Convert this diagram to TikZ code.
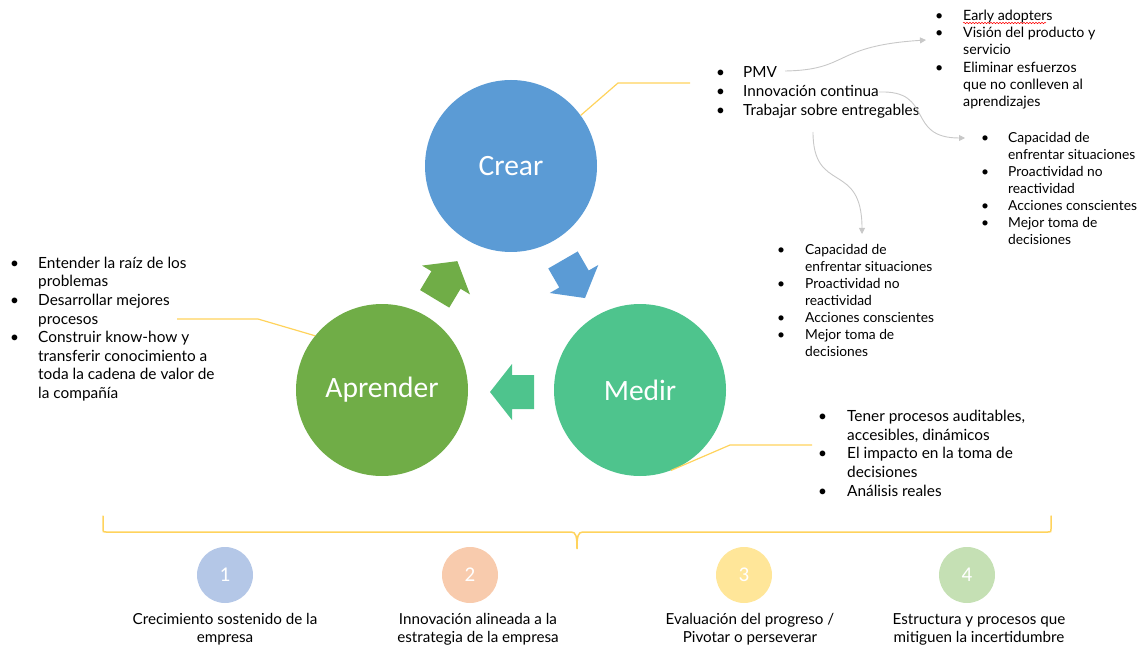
\documentclass[tikz,border=0pt]{standalone}
\usepackage{fontspec}
\setmainfont{Lato}
\newfontfamily\circfont{Carlito}
\usetikzlibrary{arrows.meta,decorations.pathmorphing}

\definecolor{azul}{HTML}{5B9BD5}
\definecolor{verde}{HTML}{70AD47}
\definecolor{menta}{HTML}{4EC48D}
\definecolor{amarillo}{HTML}{FFD35C}
\definecolor{gris}{HTML}{C8C8C8}
\definecolor{celeste}{HTML}{B4C7E7}
\definecolor{salmon}{HTML}{F8CBAD}
\definecolor{crema}{HTML}{FFE699}
\definecolor{pasto}{HTML}{C5E0B4}

% flecha de bloque: color, x, y, angulo
\newcommand{\flecha}[4]{
	\fill[#1, shift={(#2,#3)}, rotate=#4]
		(-22,-17) -- (0,-17) -- (0,-28) -- (22,0) -- (0,28) -- (0,17) -- (-22,17) -- cycle;
}

\begin{document}
\begin{tikzpicture}[
			x = 1pt, y = -1pt,
			circulo/.style = {circle, minimum size = 172pt, inner sep = 0pt, text = white,
				font = \circfont\fontsize{29.5}{31}\selectfont},
			numero/.style = {circle, minimum size = 56pt, inner sep = 0pt, text = white,
				font = \circfont\fontsize{21}{23}\selectfont},
			lista/.style 2 args = {anchor = north west, inner sep = 0pt, font = \fontsize{#1}{#2}\selectfont},
			leyenda/.style = {anchor = north, inner sep = 0pt, font = \fontsize{15.2}{18}\selectfont},
			guia/.style = {draw = amarillo, line width = 1.2pt},
			enlace/.style = {draw = gris, line width = 0.9pt, -{Triangle[width=6pt,length=6pt]}}
			]

			\useasboundingbox (0,0) rectangle (1141,647);

			% ciclo
			\node[circulo, fill = azul] (crear) at (511,166) {Crear};
			\node[circulo, fill = verde] (aprender) at (382,390) {Aprender};
			\node[circulo, fill = menta] (medir) at (640,390) {Medir};

			\flecha{verde}{446}{280}{59}
			\flecha{azul}{574}{279}{-60}
			\flecha{menta}{512}{392}{180}

			% listas
			\node[lista = {15.3}{19}] (lcrear) at (716,64) {\begin{tabular}{@{}p{27pt}@{}l@{}}
				\textbullet & PMV\\
				\textbullet & Innovación continua\\
				\textbullet & Trabajar sobre entregables
				\end{tabular}};

			\node[lista = {14.2}{17.3}] (lpmv) at (935,8) {\begin{tabular}{@{}p{28pt}@{}l@{}}
				\textbullet & Early adopters\\
				\textbullet & Visión del producto y\\
				 & servicio\\
				\textbullet & Eliminar esfuerzos\\
				 & que no conlleven al\\
				 & aprendizajes
				\end{tabular}};
			\draw[red, line width = 0.5pt, decorate, decoration = {snake, amplitude = 0.7pt, segment length = 3pt}]
				(963,23) -- (1046,23);

			\node[lista = {13.8}{17}] (linnov) at (981,130) {\begin{tabular}{@{}p{27pt}@{}l@{}}
				\textbullet & Capacidad de\\
				 & enfrentar situaciones\\
				\textbullet & Proactividad no\\
				 & reactividad\\
				\textbullet & Acciones conscientes\\
				\textbullet & Mejor toma de\\
				 & decisiones
				\end{tabular}};

			\node[lista = {13.8}{17}] (lentreg) at (777,242) {\begin{tabular}{@{}p{28pt}@{}l@{}}
				\textbullet & Capacidad de\\
				 & enfrentar situaciones\\
				\textbullet & Proactividad no\\
				 & reactividad\\
				\textbullet & Acciones conscientes\\
				\textbullet & Mejor toma de\\
				 & decisiones
				\end{tabular}};

			\node[lista = {15.4}{18.6}] (laprender) at (10,255) {\begin{tabular}{@{}p{28pt}@{}l@{}}
				\textbullet & Entender la raíz de los\\
				 & problemas\\
				\textbullet & Desarrollar mejores\\
				 & procesos\\
				\textbullet & Construir know-how y\\
				 & transferir conocimiento a\\
				 & toda la cadena de valor de\\
				 & la compañía
				\end{tabular}};

			\node[lista = {15.4}{18.75}] (lmedir) at (818,408) {\begin{tabular}{@{}p{29pt}@{}l@{}}
				\textbullet & Tener procesos auditables,\\
				 & accesibles, dinámicos\\
				\textbullet & El impacto en la toma de\\
				 & decisiones\\
				\textbullet & Análisis reales
				\end{tabular}};

			% lineas guia
			\draw[guia] (crear.36) -- (618,83) -- (690,83);
			\draw[guia] (177,319) -- (258,319) -- (aprender.141);
			\draw[guia] (medir.-69) -- (730,445) -- (812,445);

			% enlaces grises
			\coordinate (finpmv) at (785,71);
			\coordinate (fininnov) at (879,92);
			\coordinate (finentreg) at (813,132);
			\coordinate (apmv) at (926,40);
			\coordinate (ainnov) at (965,138);
			\coordinate (aentreg) at (862,234);

			\draw[enlace] (finpmv) .. controls (850,70) and (832,46) .. (apmv);
			\draw[enlace] (fininnov) .. controls (935,90) and (905,138) .. (ainnov);
			\draw[enlace] (finentreg) .. controls (813,195) and (862,160) .. (aentreg);

			% llave
			\draw[amarillo, line width = 1.5pt, line cap = round]
				(103,516) -- (103,529) .. controls (103,532) .. (106,532) -- (571,532)
				.. controls (576,532) and (577,536) .. (577,549)
				.. controls (577,536) and (578,532) .. (583,532) -- (1048,532)
				.. controls (1051,532) .. (1051,529) -- (1051,516);

			% objetivos
			\foreach \n/\x/\col/\uno/\dos in {
				1/225/celeste/{Crecimiento sostenido de la}/{empresa},
				2/478/salmon/{Innovación alineada a la}/{estrategia de la empresa},
				3/750/crema/{Evaluación del progreso /}/{Pivotar o perseverar},
				4/979/pasto/{Estructura y procesos que}/{mitiguen la incertidumbre}}{
				\node[numero, fill = \col] (num\n) at ({\x-(\n==2)*8-(\n==3)*6-(\n==4)*12},575) {\n};
				\node[leyenda] (ley\n) at (\x,612) {\begin{tabular}{@{}c@{}}\uno\\ \dos\end{tabular}};
			}

		\end{tikzpicture}
\end{document}
